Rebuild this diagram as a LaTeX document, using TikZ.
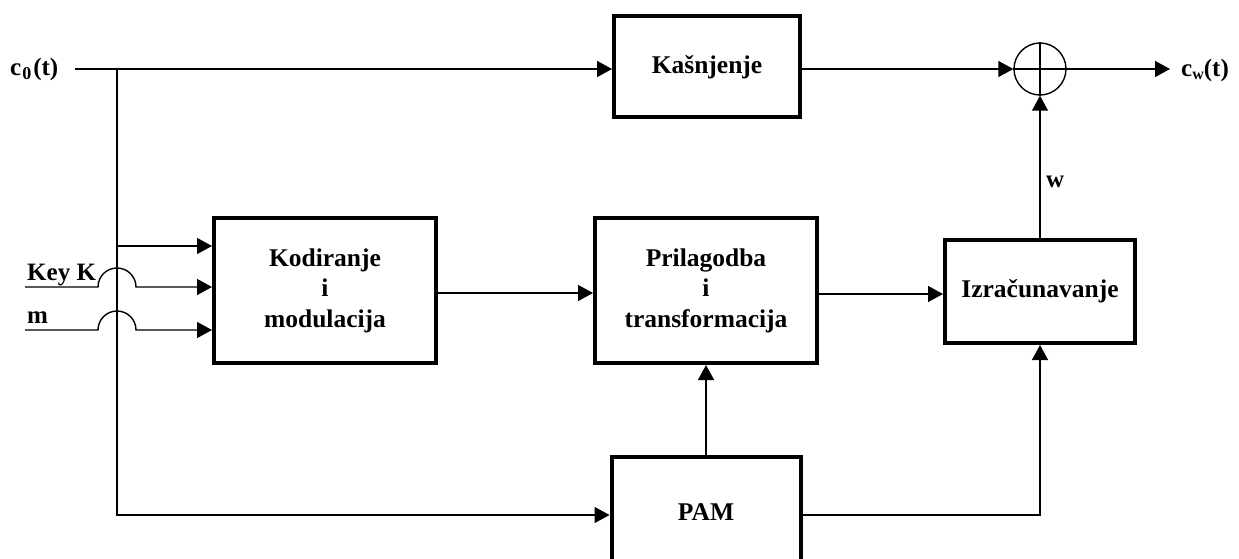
\documentclass[tikz,border=0pt]{standalone}
\usepackage{fontspec}
\setmainfont{Liberation Serif}
\usetikzlibrary{arrows.meta,calc}
\tikzset{
  blk/.style={draw, line width=4pt, rectangle, inner sep=0pt, align=center,
    font=\bfseries\fontsize{25.5}{30.5}\selectfont},
  wire/.style={line width=1.4pt},
  arr/.style={wire, -{Triangle[length=15pt,width=16pt]}},
  lbl/.style={inner sep=0pt, font=\bfseries\fontsize{25}{30}\selectfont},
  sumnode/.style={draw, circle, line width=1.4pt, minimum size=52pt, inner sep=0pt}
}
\begin{document}
\begin{tikzpicture}[x=1pt,y=-1pt]
\useasboundingbox (0,0) rectangle (1239,559);
\fill[white] (0,0) rectangle (1239,559);
\clip (0,0) rectangle (1239,559);

% blocks
\node[blk, minimum width=186pt, minimum height=101pt] (kas) at (707,67) {Kašnjenje};
\node[blk, minimum width=222pt, minimum height=145pt] (kod) at (325,290.5) {Kodiranje\\i\\modulacija};
\node[blk, minimum width=222pt, minimum height=145pt] (pri) at (706,290.5) {Prilagodba\\i\\transformacija};
\node[blk, minimum width=190pt, minimum height=103pt] (izr) at (1040,291.5) {Izračunavanje};
\node[blk, minimum width=189pt, minimum height=110pt] (pam) at (706,512) {PAM};
\node[sumnode] (sum) at (1040,69) {};
\draw[wire] (sum.north) -- (sum.south) (sum.west) -- (sum.east);

% labels
\node[lbl, anchor=base west] (c0) at (10,76) {c\hspace{1pt}\raisebox{-4pt}{\fontsize{18}{18}\selectfont 0}\hspace{2pt}(t)};
\node[lbl, anchor=base west] (cw) at (1181,77) {c\raisebox{-3pt}{\fontsize{16}{16}\selectfont w}(t)};
\node[lbl, anchor=base west] (key) at (27,280) {Key K};
\node[lbl, anchor=base west] (m) at (27,323) {m};
\node[lbl, anchor=base west] (w) at (1046,187) {w};

% coordinates
\coordinate (c0s) at (75,69);
\coordinate (j1) at (117,69);
\coordinate (j2) at (117,246);
\coordinate (j3) at (117,515);
\coordinate (out) at (1170,69);
\coordinate (ks) at (25,287);
\coordinate (ms) at (25,330);

% connectors
\draw[arr] (c0s) -- (kas.west |- c0s);
\draw[arr] (kas.east |- sum) -- (sum.west);
\draw[arr] (sum.east) -- (out);
\draw[arr] (izr.north) -- (sum.south);
\draw[arr] (j1) -- (j3) -- (pam.west |- j3);
\draw[arr] (j2) -- (kod.west |- j2);
\draw[arr] (ks) -- (98,287) arc[start angle=180, end angle=0, radius=19pt] -- (kod.west |- ks);
\draw[arr] (ms) -- (98,330) arc[start angle=180, end angle=0, radius=19pt] -- (kod.west |- ms);
\draw[arr] (kod.east |- 0,293) -- (pri.west |- 0,293);
\draw[arr] (pri.east |- 0,294) -- (izr.west |- 0,294);
\draw[arr] (pam.north) -- (pri.south);
\draw[arr] (pam.east |- j3) -| (izr.south);
\end{tikzpicture}
\end{document}
